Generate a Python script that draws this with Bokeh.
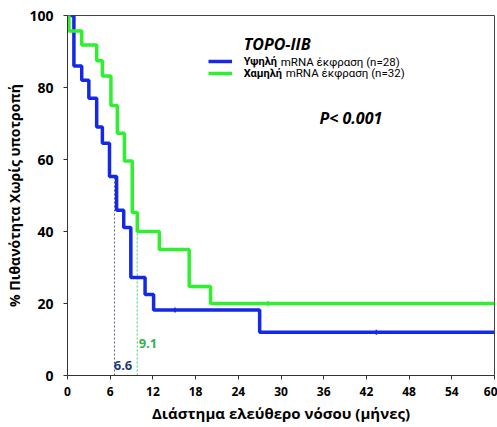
import math
from bokeh.plotting import figure
from bokeh.models import Label, Range1d, FixedTicker, Legend, LegendItem
from bokeh.embed import file_html
from bokeh.resources import INLINE

# ---- data ----
high_t = [0, 0.9, 2.0, 3.0, 4.1, 4.9, 5.9, 6.9, 7.9, 8.9, 10.9, 12.1, 27.0, 60]
high_s = [100, 86, 82, 77, 69, 64.5, 55.3, 45.9, 41.1, 27.2, 22.5, 18.2, 12.0, 12.0]
low_t = [0, 0.2, 2.0, 4.1, 4.9, 6.1, 7.0, 8.0, 9.1, 9.8, 12.9, 17.1, 20.1, 60]
low_s = [100, 95.7, 91.8, 87.4, 83.2, 75.0, 67.3, 59.6, 45.3, 40, 35, 24.7, 20, 20]
high_cens_t = [15.1, 43.4]
high_cens_s = [18.2, 12.0]
low_cens_t = [28.2]
low_cens_s = [20.0]
median_lines_x = [6.6, 9.8]
median_lines_top = [55, 45]
median_labels = ["6.6", "9.1"]
x_ticks = list(range(0, 61, 6))
y_ticks = [0, 20, 40, 60, 80, 100]

BLUE = "#1428e6"
GREEN = "#2ef02e"
FONT = "Open Sans"
LFONT = "Roboto"

p = figure(width=497, height=427, output_backend="svg", toolbar_location=None,
           x_range=Range1d(0, 60), y_range=Range1d(0, 100),
           min_border_left=67, min_border_right=3, min_border_top=15, min_border_bottom=52)
p.xgrid.visible = False
p.ygrid.visible = False
p.background_fill_color = "white"
p.border_fill_color = "white"
p.outline_line_color = "#444444"
p.outline_line_width = 1

for ax in (p.xaxis[0], p.yaxis[0]):
    ax.axis_line_color = "#333333"
    ax.major_tick_line_color = "#333333"
    ax.major_tick_in = 0
    ax.major_tick_out = 4
    ax.minor_tick_line_color = None
    ax.major_label_text_font = FONT
    ax.major_label_text_font_style = "bold"
    ax.major_label_text_color = "black"
    ax.axis_label_text_font = FONT
    ax.axis_label_text_font_style = "bold"
    ax.axis_label_text_color = "black"

p.xaxis.ticker = FixedTicker(ticks=x_ticks)
p.yaxis.ticker = FixedTicker(ticks=y_ticks)
p.xaxis.major_label_text_font_size = "12px"
p.yaxis.major_label_text_font_size = "14px"
p.xaxis.major_label_standoff = 7
p.yaxis.major_label_standoff = 10
p.xaxis.axis_label = "Διάστημα ελεύθερο νόσου (μήνες)"
p.xaxis.axis_label_text_font_size = "15px"
p.xaxis.axis_label_standoff = 4
p.yaxis.axis_label = "% Πιθανότητα Χωρίς υποτροπή"
p.yaxis.axis_label_text_font_size = "14px"
p.yaxis.axis_label_standoff = 2

# median reference lines
p.segment(x0=median_lines_x[0:1], y0=[0], x1=median_lines_x[0:1], y1=median_lines_top[0:1],
          line_color="#5a6488", line_width=1, line_dash="2 2")
p.segment(x0=median_lines_x[1:2], y0=[0], x1=median_lines_x[1:2], y1=median_lines_top[1:2],
          line_color="#33cc66", line_width=1, line_dash="2 2")

r_high = p.step(high_t, high_s, mode="after", line_color=BLUE, line_width=3.5)
r_low = p.step(low_t, low_s, mode="after", line_color=GREEN, line_width=3.5)
p.scatter(high_cens_t, high_cens_s, marker="dash", angle=math.pi / 2, size=5,
          line_color=BLUE, line_width=1.5)
p.scatter(low_cens_t, low_cens_s, marker="dash", angle=math.pi / 2, size=5,
          line_color=GREEN, line_width=1.5)

# legend swatches
leg = Legend(items=[LegendItem(label=" ", renderers=[r_high]),
                    LegendItem(label=" ", renderers=[r_low])],
             location=(141, 296), orientation="vertical",
             glyph_width=24, glyph_height=12, label_height=12, spacing=0,
             padding=0, margin=0, border_line_color=None, background_fill_alpha=0,
             label_text_font_size="11px")
p.add_layout(leg, "center")

def L(x, y, text, size, style="normal", color="black", align="left", font=FONT):
    p.add_layout(Label(x=x, y=y, text=text, text_font=font, text_font_size=size,
                       text_font_style=style, text_color=color, text_align=align,
                       text_baseline="middle"))

L(24.76, 92.2, "TOPO-IIB", "16px", "bold italic")
L(24.76, 87.2, "Υψηλή", "11px", "bold", font=LFONT)
L(29.96, 87.2, "mRNA έκφραση (n=28)", "11.5px", font=LFONT)
L(24.76, 83.9, "Χαμηλή", "11px", "bold", font=LFONT)
L(30.66, 83.9, "mRNA έκφραση (n=32)", "11.5px", font=LFONT)
L(35.4, 71.5, "P< 0.001", "16px", "bold italic")
L(7.8, 2.8, median_labels[0], "13px", "bold", "#1f3a7a", "center")
L(11.3, 8.9, median_labels[1], "13px", "bold", "#33b34f", "center")

open("out.html", "w").write(file_html(p, INLINE))
